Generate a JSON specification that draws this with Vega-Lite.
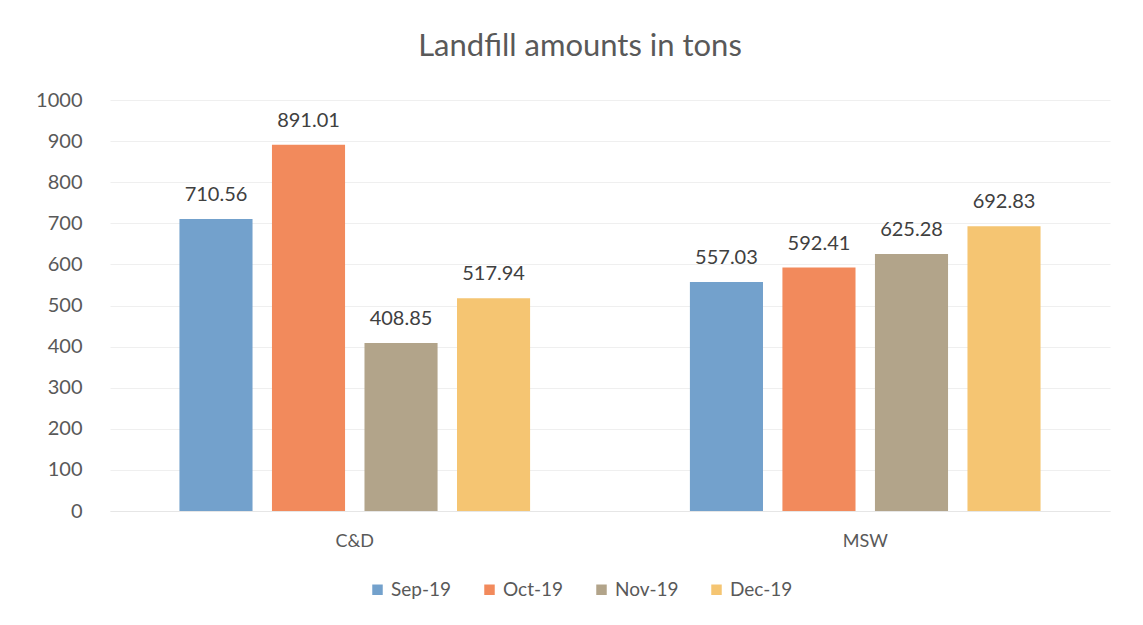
{
  "$schema": "https://vega.github.io/schema/vega-lite/v6.json",
  "autosize": "none",
  "width": 1000,
  "height": 411,
  "padding": {"left": 110, "top": 100, "right": 33, "bottom": 114},
  "background": "white",
  "config": {
    "font": "Lato",
    "view": {"stroke": null}
  },
  "title": {
    "text": "Landfill amounts in tons",
    "fontSize": 31,
    "font": "Lato",
    "fontWeight": "normal",
    "color": "#595959",
    "anchor": "middle",
    "dx": -30,
    "offset": 27
  },
  "data": {
    "values": [
      {"type": "C&D", "month": "Sep-19", "tons": 710.56},
      {"type": "C&D", "month": "Oct-19", "tons": 891.01},
      {"type": "C&D", "month": "Nov-19", "tons": 408.85},
      {"type": "C&D", "month": "Dec-19", "tons": 517.94},
      {"type": "MSW", "month": "Sep-19", "tons": 557.03},
      {"type": "MSW", "month": "Oct-19", "tons": 592.41},
      {"type": "MSW", "month": "Nov-19", "tons": 625.28},
      {"type": "MSW", "month": "Dec-19", "tons": 692.83}
    ]
  },
  "encoding": {
    "x": {
      "field": "type",
      "type": "nominal",
      "scale": {"paddingInner": 0.275, "paddingOuter": 0.117},
      "axis": {
        "title": null,
        "labelAngle": 0,
        "labelFontSize": 18,
        "labelColor": "#595959",
        "labelPadding": 21,
        "ticks": false,
        "domain": true,
        "domainColor": "#e6e6e6"
      }
    },
    "xOffset": {
      "field": "month",
      "type": "nominal",
      "sort": ["Sep-19", "Oct-19", "Nov-19", "Dec-19"],
      "scale": {"paddingInner": 0.21, "paddingOuter": 0.105}
    },
    "y": {
      "field": "tons",
      "type": "quantitative",
      "scale": {"domain": [0, 1000]},
      "axis": {
        "title": null,
        "values": [0, 100, 200, 300, 400, 500, 600, 700, 800, 900, 1000],
        "format": "d",
        "labelOverlap": false,
        "labelFontSize": 20,
        "labelColor": "#595959",
        "labelPadding": 28,
        "ticks": false,
        "domain": false,
        "gridColor": "#efefef",
        "gridWidth": 1
      }
    }
  },
  "layer": [
    {
      "mark": {"type": "bar"},
      "encoding": {
        "color": {
          "field": "month",
          "type": "nominal",
          "sort": ["Sep-19", "Oct-19", "Nov-19", "Dec-19"],
          "scale": {
            "domain": ["Sep-19", "Oct-19", "Nov-19", "Dec-19"],
            "range": ["#73a1cc", "#f28a5c", "#b2a48a", "#f5c572"]
          },
          "legend": {
            "title": null,
            "orient": "none",
            "legendX": 258,
            "legendY": 480,
            "direction": "horizontal",
            "symbolType": "square",
            "symbolSize": 110,
            "symbolStrokeWidth": 0,
            "labelFontSize": 19,
            "labelColor": "#595959",
            "columnPadding": 28
          }
        }
      }
    },
    {
      "mark": {"type": "text", "baseline": "bottom", "dy": -14, "fontSize": 20, "color": "#404040"},
      "encoding": {
        "text": {"field": "tons", "type": "quantitative", "format": ".2f"}
      }
    }
  ]
}
